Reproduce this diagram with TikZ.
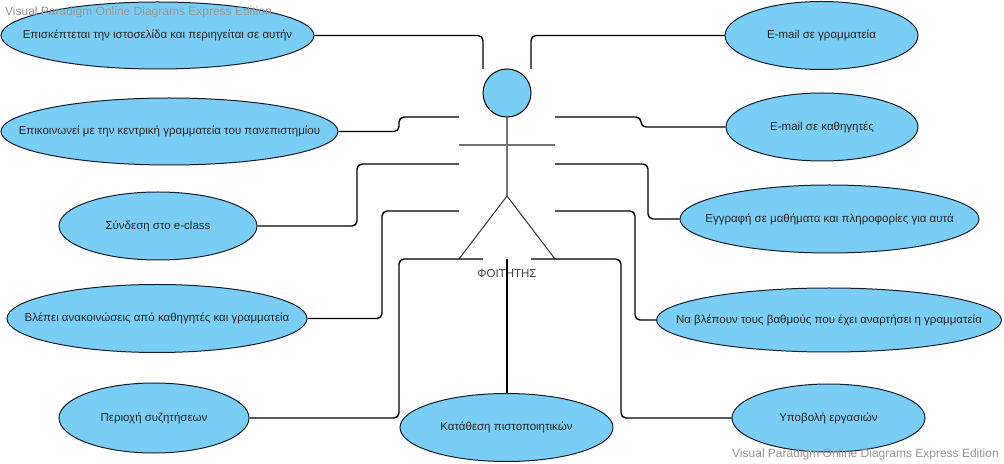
\documentclass[tikz,border=0pt]{standalone}
\usepackage{fontspec}
\setmainfont{Liberation Sans}
\usetikzlibrary{shapes.geometric}
\definecolor{ucfill}{RGB}{122,206,245}
\definecolor{ucline}{RGB}{20,30,45}
\definecolor{wmgray}{RGB}{150,150,150}
\definecolor{actorgray}{RGB}{115,115,115}
\begin{document}
\begin{tikzpicture}[x=1bp,y=-1bp,
  uc/.style={ellipse, draw=ucline, fill=ucfill, line width=1bp, inner sep=0pt},
  uctext/.style={inner sep=0pt, font=\fontsize{11.5bp}{13bp}\selectfont, text=black!85},
  conn/.style={draw=black, line width=1.4bp, rounded corners=5bp},
  wmark/.style={anchor=west, text=wmgray, inner sep=0pt, font=\fontsize{12bp}{14bp}\selectfont},
  limb/.style={draw=actorgray, line width=2bp},
  leg/.style={draw=black!80, line width=1bp}]
\useasboundingbox (0,0) rectangle (1004,464);
\fill[white] (0,0) rectangle (1004,464);
% use cases left
\node[uc, minimum width=313bp, minimum height=67bp, label={[uctext]center:Επισκέπτεται την ιστοσελίδα και περιηγείται σε αυτήν}] (u1) at (157.5,35.5) {};
\node[uc, minimum width=337bp, minimum height=67bp, label={[uctext]center:Επικοινωνεί με την κεντρική γραμματεία του πανεπιστημίου}] (u2) at (169.5,131.5) {};
\node[uc, minimum width=198bp, minimum height=68bp, label={[uctext]center:Σύνδεση στο e-class}] (u3) at (158,226) {};
\node[uc, minimum width=300bp, minimum height=68bp, label={[uctext]center:Βλέπει ανακοινώσεις από καθηγητές και γραμματεία}] (u4) at (157,318.5) {};
\node[uc, minimum width=190bp, minimum height=70bp, label={[uctext]center:Περιοχή συζητήσεων}] (u5) at (154,418) {};
\node[uc, minimum width=213bp, minimum height=68bp, label={[uctext]center:Κατάθεση πιστοποιητικών}] (u6) at (506.5,427.5) {};
% use cases right
\node[uc, minimum width=193bp, minimum height=68bp, label={[uctext]center:E-mail σε γραμματεία}] (r1) at (821.5,35.5) {};
\node[uc, minimum width=192bp, minimum height=68bp, label={[uctext]center:E-mail σε καθηγητές}] (r2) at (822,127) {};
\node[uc, minimum width=299bp, minimum height=68bp, label={[uctext]center:Εγγραφή σε μαθήματα και πληροφορίες για αυτά}] (r3) at (829.5,219) {};
\node[uc, minimum width=345bp, minimum height=64bp, label={[uctext]center:Να βλέπουν τους βαθμούς που έχει αναρτήσει η γραμματεία}] (r4) at (829,320) {};
\node[uc, minimum width=193bp, minimum height=68bp, label={[uctext]center:Υποβολή εργασιών}] (r5) at (828.5,418) {};
% actor
\node[circle, draw=black, fill=ucfill, line width=1bp, minimum size=48bp, inner sep=0pt] (head) at (507,93) {};
\coordinate (hip) at (507,196);
\coordinate (larm) at (459,145);
\coordinate (rarm) at (555,145);
\coordinate (lfoot) at (459,259);
\coordinate (rfoot) at (555,259);
\draw[limb] (head.south) -- (hip);
\draw[limb] (larm) -- (rarm);
\draw[leg] (lfoot) -- (hip) -- (rfoot);
\node[font=\fontsize{11.5bp}{13bp}\selectfont, text=black!75] (lbl) at (507,274) {ΦΟΙΤΗΤΗΣ};
% connector ends at the actor
\coordinate (a1) at (483,69);
\coordinate (a2) at (459,117);
\coordinate (a3) at (459,164);
\coordinate (a4) at (459,211);
\coordinate (a5) at (483,259);
\coordinate (b1) at (531,69);
\coordinate (b2) at (555,117);
\coordinate (b3) at (555,164);
\coordinate (b4) at (555,211);
\coordinate (b5) at (531,259);
\coordinate (b6) at (507,259);
% connectors
\draw[conn] (u1.east) -| (a1);
\draw[conn] (u2.east) -| (399,117) -- (a2);
\draw[conn] (u3.east) -| (357,164) -- (a3);
\draw[conn] (u4.east) -| (382,211) -- (a4);
\draw[conn] (u5.east) -| (399,259) -- (a5);
\draw[conn] (b1) |- (r1.west);
\draw[conn] (b2) -| (641,127) -- (r2.west);
\draw[conn] (b3) -| (648,219) -- (r3.west);
\draw[conn] (b4) -| (635,320) -- (r4.west);
\draw[conn] (b5) -| (621,418) -- (r5.west);
\draw[conn] (b6) -- (b6 |- u6.north);
% watermarks
\node[wmark] (wm1) at (5,12.5) {Visual Paradigm Online Diagrams Express Edition};
\node[wmark] (wm2) at (732,454) {Visual Paradigm Online Diagrams Express Edition};
\end{tikzpicture}
\end{document}
